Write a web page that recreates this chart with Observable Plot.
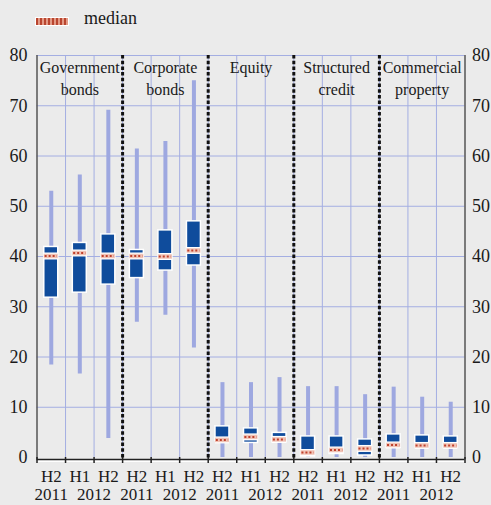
<!DOCTYPE html>
<html><head><meta charset="utf-8">
<script src="https://cdn.jsdelivr.net/npm/d3@7"></script>
<script src="https://cdn.jsdelivr.net/npm/@observablehq/plot@0.6"></script>
<style>
body{margin:0;background:#ebebeb;font-family:"Liberation Serif","Times New Roman",serif;color:#1a1a1a;}
#legend{position:relative;height:40px;width:491px;}
#legend .sw{position:absolute;left:35px;top:17px;width:32px;height:7px;border:1px solid #fff;
  background:repeating-linear-gradient(90deg,#b9452f 0 2px,#e39a86 2px 4px);}
#legend .lt{position:absolute;left:84px;top:8px;font-size:18px;line-height:20px;}
#chart svg{display:block;font-family:"Liberation Serif","Times New Roman",serif !important;}
#chart svg text{font-family:"Liberation Serif","Times New Roman",serif !important;}
</style></head><body>
<div id="legend"><span class="sw"></span><span class="lt">median</span></div>
<div id="chart"></div>
<script>
const groups = ["Government\nbonds", "Corporate\nbonds", "Equity", "Structured\ncredit", "Commercial\nproperty"];
const halves = ["H2", "H1", "H2"];
const years = ["2011", "2012"];
const yTicks = [0, 10, 20, 30, 40, 50, 60, 70, 80];
const whiskerLow  = [18.4, 16.6, 3.8, 26.9, 28.3, 21.8, 0, 0, 0, 0, 0, 0, 0, 0, 0];
const quartile1   = [31.8, 32.8, 34.4, 35.7, 37.2, 38.2, 3.3, 2.9, 3.0, 0.2, 0.7, 0.4, 1.9, 2.0, 1.9];
const medians     = [40.1, 40.7, 40.1, 40.1, 40.0, 41.2, 3.5, 4.1, 3.6, 1.0, 1.5, 1.8, 2.5, 2.4, 2.4];
const quartile3   = [41.9, 42.7, 44.4, 41.3, 45.2, 47.0, 6.2, 5.8, 4.9, 4.2, 4.2, 3.6, 4.6, 4.4, 4.2];
const whiskerHigh = [53.0, 56.2, 69.1, 61.4, 62.9, 75.0, 14.9, 14.9, 15.9, 14.1, 14.1, 12.5, 14.0, 12.0, 11.0];

const data = d3.range(15).map(i => ({
  i, x: i + 0.5, lo: whiskerLow[i], q1: quartile1[i], med: medians[i], q3: quartile3[i], hi: whiskerHigh[i],
  half: halves[i % 3]
}));
// year labels: first year under the first half-year, second year centred under the two half-years of that year
const yearData = groups.flatMap((g, k) => [
  {year: years[0], x: k * 3 + 0.5},
  {year: years[1], x: k * 3 + 2}
]);
const groupData = groups.map((g, k) => ({g, x: k * 3 + 1.5}));
const grid = "#a4aee2";
const hw = 0.245;
const font = "Liberation Serif";

const chart = Plot.plot({
  width: 491, height: 465,
  marginLeft: 36.5, marginRight: 26.5, marginTop: 15, marginBottom: 48,
  style: {background: "transparent", fontFamily: font, color: "#1a1a1a", overflow: "visible"},
  x: {domain: [0, 15], axis: null},
  y: {domain: [0, 80], axis: null},
  marks: [
    Plot.ruleY(yTicks.filter(v => v > 0), {stroke: grid, strokeWidth: 1}),
    Plot.ruleX(d3.range(1, 15), {stroke: grid, strokeWidth: 1}),
    Plot.ruleX([3, 6, 9, 12], {stroke: "#111", strokeWidth: 3, strokeDasharray: "3.5,2.2", insetBottom: -3}),
    Plot.ruleX(data, {x: "x", y1: "lo", y2: "hi", stroke: "#9ea8e0", strokeWidth: 4}),
    Plot.rect(data, {x1: d => d.x - hw, x2: d => d.x + hw, y1: "q1", y2: "q3", fill: "#0f4c9c", stroke: "#fff", strokeWidth: 1.5}),
    Plot.ruleY(data, {y: "med", x1: d => d.x - hw, x2: d => d.x + hw, stroke: "#fff", strokeWidth: 7}),
    Plot.ruleY(data, {y: "med", x1: d => d.x - hw, x2: d => d.x + hw, stroke: "#f0c3b6", strokeWidth: 4.5}),
    Plot.ruleY(data, {y: "med", x1: d => d.x - hw + 0.03, x2: d => d.x + hw - 0.03, stroke: "#c0412c", strokeWidth: 2, strokeDasharray: "2,2"}),
    Plot.text(groupData, {x: "x", y: 80, text: "g", lineAnchor: "top", dy: 2.5, fontSize: 16, lineHeight: 1.35, fill: "#1a1a1a", fontFamily: font}),
    Plot.ruleX([0], {stroke: "#555", strokeWidth: 1.5, insetBottom: -2}),
    Plot.ruleX([15], {stroke: "#555", strokeWidth: 1.5, insetBottom: -2}),
    Plot.ruleY([0], {stroke: "#fff", strokeWidth: 3, dy: 3}),
    Plot.ruleY([0], {stroke: "#222", strokeWidth: 1.5, dy: 2}),
    Plot.axisX({ticks: d3.range(0, 16), tickFormat: () => "", tickSize: 6, stroke: "#222", strokeWidth: 1.5, label: null}),
    Plot.text(data, {x: "x", y: 0, text: "half", lineAnchor: "top", dy: 12, fontSize: 17, fill: "#1a1a1a", fontFamily: font}),
    Plot.text(yearData, {x: "x", y: 0, text: "year", lineAnchor: "top", dy: 30.5, fontSize: 17, fill: "#1a1a1a", fontFamily: font}),
    Plot.axisY({anchor: "left", ticks: yTicks, tickSize: 0, tickPadding: 9.5, fontSize: 18, fill: "#1a1a1a", label: null, fontFamily: font}),
    Plot.axisY({anchor: "right", ticks: yTicks, tickSize: 0, tickPadding: 7, fontSize: 18, fill: "#1a1a1a", label: null, fontFamily: font})
  ]
});
document.getElementById("chart").appendChild(chart);
</script>
</body></html>
